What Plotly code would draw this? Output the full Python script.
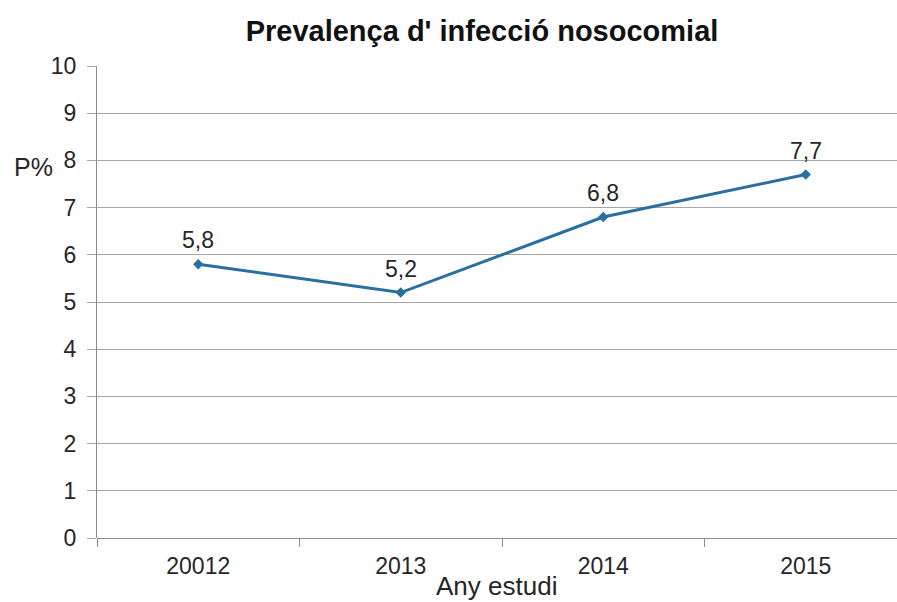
import plotly.graph_objects as go

# Study years (first label kept as written) and prevalence values (%)
years = ["20012", "2013", "2014", "2015"]
prevalence = [5.8, 5.2, 6.8, 7.7]

y_ticks = list(range(0, 11))

W, H = 897, 602
L, T, B = 97, 66, 64
plot_w = W - L
plot_h = H - T - B
slot = 202.5  # pixel width of one category slot

FONT = "Liberation Sans, Arial, sans-serif"
TEXT = "#262626"
LINE = "#2a6f9f"

fig = go.Figure()
fig.add_trace(go.Scatter(
    x=years,
    y=prevalence,
    mode="lines+markers",
    line=dict(color=LINE, width=3),
    marker=dict(symbol="diamond", size=8, color=LINE),
    cliponaxis=False,
    hoverinfo="skip",
))

# value labels above each point (category axis positions given by index,
# since the year labels look numeric)
value_labels = [
    dict(
        x=i, y=v, xref="x", yref="y",
        text=f"{v:.1f}".replace(".", ","),
        showarrow=False,
        yshift=24,
        xanchor="center", yanchor="middle",
        font=dict(family=FONT, size=23, color=TEXT),
    )
    for i, v in enumerate(prevalence)
]

fig.update_layout(
    width=W,
    height=H,
    margin=dict(l=L, r=0, t=T, b=B),
    paper_bgcolor="white",
    plot_bgcolor="white",
    showlegend=False,
    font=dict(family=FONT, color=TEXT),
    title=dict(
        text="<b>Prevalença d' infecció nosocomial</b>",
        x=482 / W,
        xanchor="center",
        y=1 - 31 / H,
        yanchor="middle",
        font=dict(family=FONT, size=29, color="#111111"),
    ),
    xaxis=dict(
        type="category",
        range=[-0.5, -0.5 + plot_w / slot],
        tickson="boundaries",
        ticks="outside",
        ticklen=8,
        tickcolor="#8c8c8c",
        tickwidth=1,
        showgrid=False,
        showline=False,
        zeroline=False,
        tickfont=dict(family=FONT, size=23, color=TEXT),
        ticklabelstandoff=12,
    ),
    yaxis=dict(
        range=[0, 10],
        tickvals=y_ticks,
        ticks="outside",
        ticklen=9,
        tickcolor="#a6a6a6",
        showgrid=True,
        gridcolor="#a6a6a6",
        gridwidth=1,
        showline=True,
        linecolor="#8c8c8c",
        linewidth=1,
        zeroline=True,
        zerolinecolor="#8c8c8c",
        zerolinewidth=1,
        tickfont=dict(family=FONT, size=23, color=TEXT),
        ticklabelstandoff=6,
    ),
    annotations=value_labels + [
        dict(
            text="P%",
            xref="paper", yref="paper",
            x=(33 - L) / plot_w, y=(H - B - 167) / plot_h,
            xanchor="center", yanchor="middle",
            showarrow=False,
            font=dict(family=FONT, size=25, color=TEXT),
        ),
        dict(
            text="Any estudi",
            xref="paper", yref="paper",
            x=(496 - L) / plot_w, y=-(586 - (H - B)) / plot_h,
            xanchor="center", yanchor="middle",
            showarrow=False,
            font=dict(family=FONT, size=26, color=TEXT),
        ),
    ],
)

fig.write_html("out.html")
